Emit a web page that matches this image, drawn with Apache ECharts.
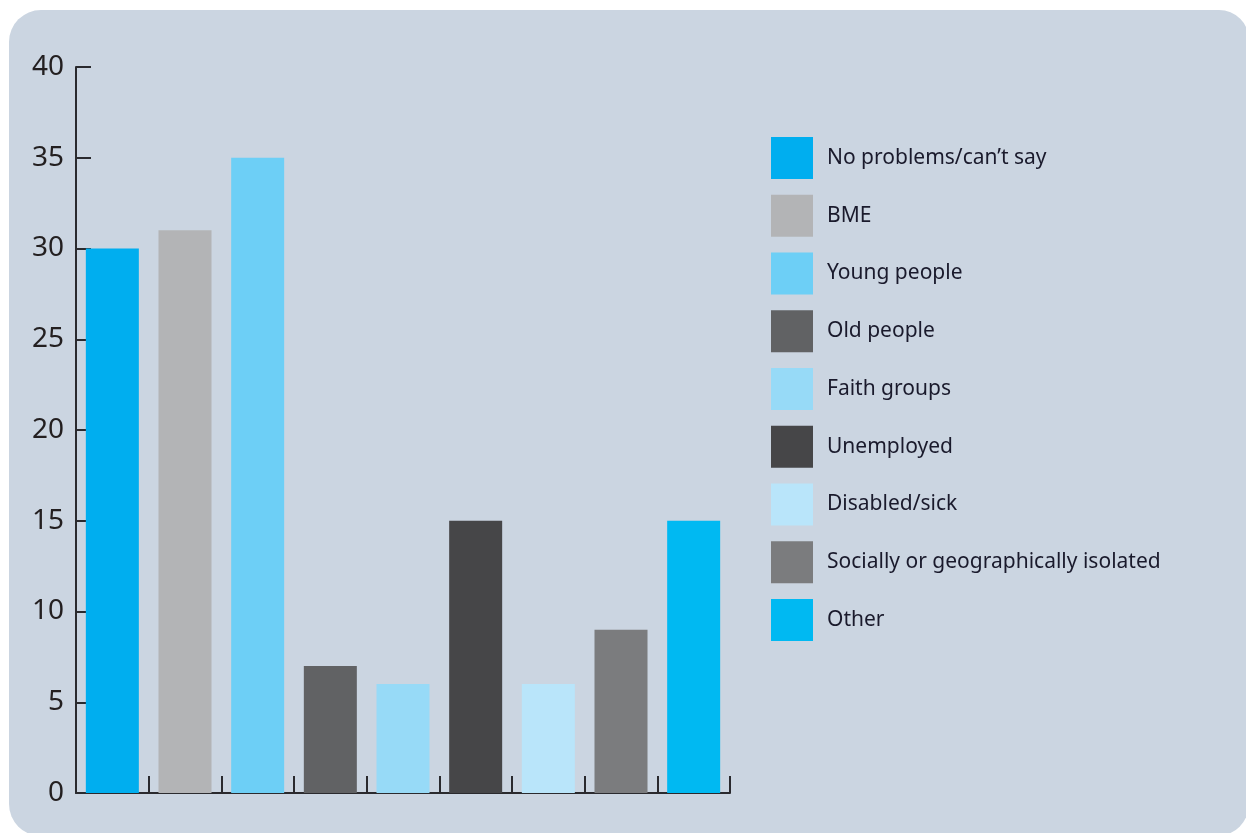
<!DOCTYPE html>
<html><head><meta charset="utf-8">
<script src="https://cdn.jsdelivr.net/npm/echarts@6/dist/echarts.min.js"></script>
<style>html,body{margin:0;padding:0;background:#fff}#c{width:1246px;height:833px}</style>
</head><body><div id="c"></div>
<script>
const categories = ['No problems/can\u2019t say','BME','Young people','Old people','Faith groups','Unemployed','Disabled/sick','Socially or geographically isolated','Other'];
const values = [30, 31, 35, 7, 6, 15, 6, 9, 15];
const colors = ['#00aeef','#b3b4b6','#6dcff6','#616264','#97daf7','#464648','#b9e5fa','#7b7c7e','#00b9f2'];
const yTicks = [0, 5, 10, 15, 20, 25, 30, 35, 40];

const chart = echarts.init(document.getElementById('c'));
const series = categories.map((name, i) => ({
  name: name,
  type: 'bar',
  barWidth: 53,
  barGap: '-100%',
  itemStyle: { color: colors[i] },
  data: values.map((v, j) => (j === i ? v : '-'))
}));
chart.setOption({
  animation: false,
  backgroundColor: '#ffffff',
  graphic: [{
    type: 'rect', z: -10, silent: true,
    shape: { x: 9, y: 10, width: 1240, height: 826, r: [32, 30, 32, 32] },
    style: { fill: '#cbd5e1' }
  }],
  legend: {
    orient: 'vertical', left: 771, top: 137, padding: 0,
    itemWidth: 42, itemHeight: 42, itemGap: 15.75,
    icon: 'rect',
    textStyle: { fontFamily: 'Noto Sans', fontSize: 21, color: '#1a1a2c', padding: [0, 0, 0, 9] },
    data: categories
  },
  grid: { left: 76, top: 67, right: 516, bottom: 40, containLabel: false },
  xAxis: {
    type: 'category', data: categories,
    axisLine: { lineStyle: { color: '#2a2a2e', width: 2 } },
    axisTick: { show: true, inside: true, interval: 0, length: 17, alignWithLabel: false, lineStyle: { color: '#2a2a2e', width: 2 } },
    axisLabel: { show: false, interval: 0 }
  },
  yAxis: {
    type: 'value', min: 0, max: 40, interval: 5,
    axisLine: { show: true, lineStyle: { color: '#2a2a2e', width: 2 } },
    axisTick: { show: true, inside: true, length: 15, lineStyle: { color: '#2a2a2e', width: 2 } },
    splitLine: { show: false },
    axisLabel: {
      fontFamily: 'Noto Sans', fontSize: 28, color: '#231f20', margin: 12,
      formatter: v => (yTicks.includes(v) ? String(v) : '')
    }
  },
  series: series
});
</script></body></html>
